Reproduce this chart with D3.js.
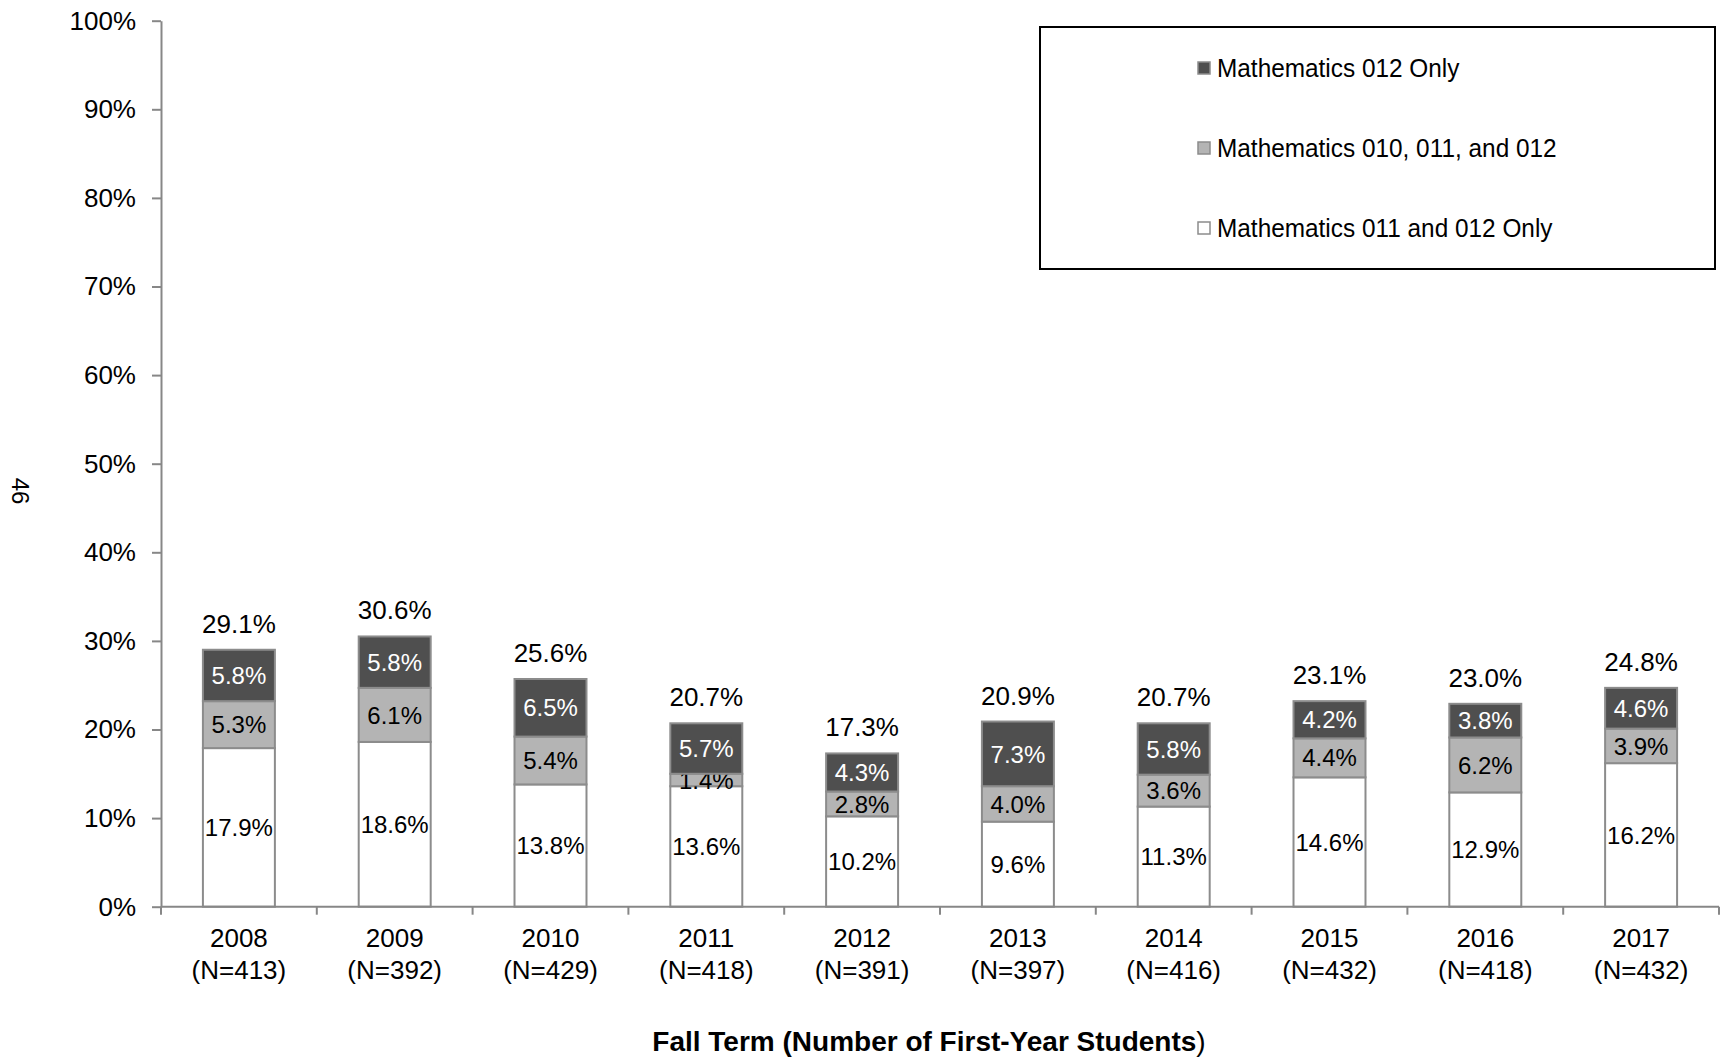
<!DOCTYPE html>
<html>
<head>
<meta charset="utf-8">
<script src="https://cdn.jsdelivr.net/npm/d3@7"></script>
<style>
  html, body { margin: 0; padding: 0; background: #fff; }
  svg { display: block; font-family: "Liberation Sans", Arial, sans-serif; }
</style>
</head>
<body>
<svg id="chart" width="1720" height="1059"></svg>
<script>
// Fall terms and first-year cohort sizes
const years = ["2008", "2009", "2010", "2011", "2012", "2013", "2014", "2015", "2016", "2017"];
const cohortN = [413, 392, 429, 418, 391, 397, 416, 432, 418, 432];

// Percent of first-year students by developmental mathematics sequence
const math011and012Only = [17.9, 18.6, 13.8, 13.6, 10.2, 9.6, 11.3, 14.6, 12.9, 16.2];
const math010011and012 = [5.3, 6.1, 5.4, 1.4, 2.8, 4.0, 3.6, 4.4, 6.2, 3.9];
const math012Only = [5.8, 5.8, 6.5, 5.7, 4.3, 7.3, 5.8, 4.2, 3.8, 4.6];
const totalPct = [29.1, 30.6, 25.6, 20.7, 17.3, 20.9, 20.7, 23.1, 23.0, 24.8];

const yTicks = [0, 10, 20, 30, 40, 50, 60, 70, 80, 90, 100];

const seriesKeys = ["m011012", "m010011012", "m012"];
const seriesNames = {
  m011012: "Mathematics 011 and 012 Only",
  m010011012: "Mathematics 010, 011, and 012",
  m012: "Mathematics 012 Only"
};
const fills = { m011012: "#ffffff", m010011012: "#b4b4b4", m012: "#4f4f4f" };
const labelColors = { m011012: "#000", m010011012: "#000", m012: "#fff" };

const rows = years.map((yr, i) => ({
  year: yr,
  n: cohortN[i],
  total: totalPct[i],
  m011012: math011and012Only[i],
  m010011012: math010011and012[i],
  m012: math012Only[i]
}));

const svg = d3.select("#chart");
const axisGrey = "#878787";

const plotLeft = 161, plotRight = 1719, plotTop = 20.7, plotBottom = 906.7;

const y = d3.scaleLinear().domain([0, 100]).range([plotBottom, plotTop]);
const xSlot = d3.scaleBand().domain(years).range([plotLeft, plotRight]).padding(0);
const x = d3.scaleBand().domain(years).range([plotLeft, plotRight])
  .paddingInner(0.538).paddingOuter(0.269);

// Y axis
const yAxis = d3.axisLeft(y)
  .tickValues(yTicks)
  .tickFormat(d => d + "%")
  .tickSize(9)
  .tickSizeOuter(0)
  .tickPadding(16);

const gy = svg.append("g")
  .attr("transform", `translate(${plotLeft},0)`)
  .call(yAxis);
gy.select(".domain").attr("stroke", axisGrey).attr("stroke-width", 2);
gy.selectAll(".tick line").attr("stroke", axisGrey).attr("stroke-width", 2);
gy.selectAll(".tick text")
  .attr("fill", "#000")
  .style("font-size", "26px")
  .style("font-family", "'Liberation Sans', Arial, sans-serif");

// Stacked bars
const stacked = d3.stack().keys(seriesKeys)(rows);

const layers = svg.append("g").selectAll("g.layer")
  .data(stacked)
  .join("g")
  .attr("class", "layer");

layers.selectAll("rect")
  .data(s => s.map(d => ({ key: s.key, d })))
  .join("rect")
  .attr("x", o => x(o.d.data.year))
  .attr("width", x.bandwidth())
  .attr("y", o => y(o.d[1]))
  .attr("height", o => y(o.d[0]) - y(o.d[1]))
  .attr("fill", o => fills[o.key])
  .attr("stroke", "#8c8c8c")
  .attr("stroke-width", 2);

// Segment value labels
layers.selectAll("text")
  .data(s => s.map(d => ({ key: s.key, d })))
  .join("text")
  .attr("x", o => x(o.d.data.year) + x.bandwidth() / 2)
  .attr("y", o => (y(o.d[0]) + y(o.d[1])) / 2)
  .attr("dy", "0.36em")
  .attr("text-anchor", "middle")
  .attr("fill", o => labelColors[o.key])
  .style("font-size", "24px")
  .text(o => o.d.data[o.key].toFixed(1) + "%");

// Total labels above each stack
const topOf = r => r.m011012 + r.m010011012 + r.m012;
svg.append("g").selectAll("text")
  .data(rows)
  .join("text")
  .attr("x", r => x(r.year) + x.bandwidth() / 2)
  .attr("y", r => y(topOf(r)) - 17)
  .attr("text-anchor", "middle")
  .attr("fill", "#000")
  .style("font-size", "26px")
  .text(r => r.total.toFixed(1) + "%");

// X axis line and category boundary ticks
const gx = svg.append("g");
gx.append("line")
  .attr("x1", plotLeft).attr("x2", plotRight)
  .attr("y1", y(0)).attr("y2", y(0))
  .attr("stroke", axisGrey).attr("stroke-width", 2);

const boundaries = years.map(yr => xSlot(yr)).concat([xSlot(years[years.length - 1]) + xSlot.bandwidth()]);
gx.selectAll("line.tick")
  .data(boundaries)
  .join("line")
  .attr("class", "tick")
  .attr("x1", d => d).attr("x2", d => d)
  .attr("y1", y(0)).attr("y2", y(0) + 8)
  .attr("stroke", axisGrey).attr("stroke-width", 2);

const xLabels = gx.selectAll("text.xl")
  .data(rows)
  .join("text")
  .attr("class", "xl")
  .attr("text-anchor", "middle")
  .attr("fill", "#000")
  .style("font-size", "26px");
xLabels.append("tspan")
  .attr("x", r => x(r.year) + x.bandwidth() / 2)
  .attr("y", 947)
  .text(r => r.year);
xLabels.append("tspan")
  .attr("x", r => x(r.year) + x.bandwidth() / 2)
  .attr("y", 979)
  .text(r => `(N=${r.n})`);

// X axis title
const xTitle = svg.append("text")
  .attr("x", 929)
  .attr("y", 1051)
  .attr("text-anchor", "middle")
  .attr("fill", "#000")
  .style("font-size", "28px");
xTitle.append("tspan").style("font-weight", "bold").text("Fall Term (Number of First-Year Students");
xTitle.append("tspan").text(")");

// Page number
svg.append("text")
  .attr("transform", "translate(12,491) rotate(90)")
  .attr("text-anchor", "middle")
  .attr("fill", "#000")
  .style("font-size", "24px")
  .text("46");

// Legend
const legend = svg.append("g");
legend.append("rect")
  .attr("x", 1040).attr("y", 27)
  .attr("width", 675).attr("height", 242)
  .attr("fill", "#fff")
  .attr("stroke", "#000")
  .attr("stroke-width", 2);

const legendOrder = ["m012", "m010011012", "m011012"];
const legendRows = legend.selectAll("g.item")
  .data(legendOrder)
  .join("g")
  .attr("class", "item")
  .attr("transform", (k, i) => `translate(1198,${77 + i * 80})`);

legendRows.append("rect")
  .attr("x", 0).attr("y", -15)
  .attr("width", 12).attr("height", 12)
  .attr("fill", k => fills[k])
  .attr("stroke", "#8c8c8c")
  .attr("stroke-width", 1.5);

legendRows.append("text")
  .attr("transform", "translate(19,0) scale(0.92,1)")
  .attr("fill", "#000")
  .style("font-size", "26.5px")
  .text(k => seriesNames[k]);
</script>
</body>
</html>
